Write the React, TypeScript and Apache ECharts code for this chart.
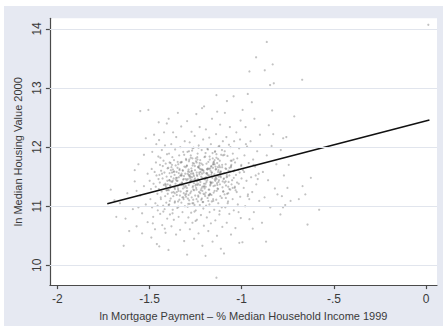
import React, { useEffect, useRef } from "react";
import * as echarts from "echarts";

// Tick values
const xTickValues = [-2, -1.5, -1, -0.5, 0];
const yTickValues = [10, 11, 12, 13, 14];

// Fitted regression line endpoints
const fitX = [-1.729, 0.018];
const fitY = [11.04, 12.46];

// Scatter points, read region by region (x = ln mortgage payment share, y = ln median housing value)
const colAx = [-1.71, -1.68, -1.66, -1.64, -1.63, -1.62, -1.61, -1.69];
const colAy = [11.28, 10.82, 11.05, 10.33, 10.79, 11.22, 10.58, 11.1];

const colBx = [-1.59, -1.58, -1.57, -1.56, -1.55, -1.55, -1.54, -1.53, -1.52, -1.52, -1.51, -1.51, -1.58, -1.56, -1.53, -1.506, -1.57, -1.54];
const colBy = [10.95, 11.42, 10.66, 11.71, 12.61, 11.18, 10.54, 11.87, 11.03, 12.15, 10.73, 11.55, 11.61, 10.98, 11.34, 12.63, 11.26, 10.88];

const colCx = [-1.495, -1.49, -1.488, -1.485, -1.48, -1.478, -1.475, -1.47, -1.468, -1.465, -1.46, -1.462, -1.457, -1.455, -1.452, -1.45, -1.451, -1.492, -1.482, -1.472, -1.463, -1.456, -1.499, -1.486, -1.466];
const colCy = [11.12, 10.47, 11.63, 11.92, 10.82, 11.38, 12.21, 10.61, 11.05, 11.74, 10.36, 11.52, 11.21, 10.93, 11.84, 12.42, 11.46, 11.29, 10.71, 11.58, 12.05, 11.01, 11.43, 10.98, 11.33];

const colDx = [-1.447, -1.413, -1.431, -1.404, -1.442, -1.418, -1.426, -1.409, -1.438, -1.415, -1.401, -1.434, -1.449, -1.411, -1.422, -1.444, -1.403, -1.429, -1.407, -1.446, -1.419, -1.437, -1.402, -1.428, -1.412, -1.424, -1.441, -1.405, -1.433, -1.416, -1.448, -1.421, -1.406, -1.439, -1.414, -1.432, -1.425, -1.408, -1.443, -1.417];
const colDy = [10.32, 10.55, 10.68, 10.79, 10.87, 10.95, 11.01, 11.06, 11.12, 11.17, 11.21, 11.25, 11.29, 11.33, 11.36, 11.4, 11.43, 11.47, 11.5, 11.53, 11.57, 11.6, 11.64, 11.68, 11.72, 11.77, 11.82, 11.88, 11.95, 12.03, 12.12, 12.25, 12.4, 11.15, 11.38, 11.55, 10.91, 11.27, 11.7, 10.62];

const colEx = [-1.397, -1.312, -1.356, -1.334, -1.381, -1.305, -1.368, -1.342, -1.389, -1.321, -1.374, -1.349, -1.308, -1.393, -1.327, -1.362, -1.338, -1.385, -1.316, -1.371,
  -1.352, -1.301, -1.379, -1.331, -1.395, -1.345, -1.318, -1.366, -1.303, -1.387, -1.336, -1.359, -1.324, -1.377, -1.348, -1.392, -1.314, -1.369, -1.341, -1.383,
  -1.329, -1.364, -1.306, -1.391, -1.353, -1.319, -1.373, -1.337, -1.398, -1.311, -1.358, -1.344, -1.386, -1.325, -1.367, -1.302, -1.376, -1.339, -1.394, -1.317,
  -1.361, -1.333, -1.382, -1.309, -1.355, -1.372, -1.328, -1.396, -1.346, -1.315, -1.363, -1.388, -1.322, -1.351, -1.378, -1.304, -1.343, -1.384, -1.326, -1.366,
  -1.335, -1.399, -1.313, -1.357, -1.375, -1.332, -1.39, -1.347, -1.32, -1.37];
const colEy = [10.26, 10.41, 10.52, 10.6, 10.66, 10.72, 10.77, 10.82, 10.86, 10.9, 10.94, 10.97, 11.0, 11.03, 11.06, 11.08, 11.11, 11.13, 11.15, 11.17,
  11.19, 11.21, 11.23, 11.25, 11.27, 11.29, 11.3, 11.32, 11.34, 11.35, 11.37, 11.38, 11.4, 11.41, 11.43, 11.44, 11.46, 11.47, 11.49, 11.5,
  11.52, 11.53, 11.55, 11.56, 11.58, 11.6, 11.62, 11.63, 11.65, 11.67, 11.69, 11.71, 11.73, 11.75, 11.78, 11.8, 11.83, 11.86, 11.89, 11.92,
  11.96, 12.0, 12.05, 12.1, 12.17, 12.25, 12.35, 12.48, 12.58, 11.12, 11.22, 11.31, 11.39, 11.48, 11.57, 11.66, 10.99, 11.42, 11.36, 11.59,
  11.18, 11.28, 11.51, 11.45, 10.88, 11.74, 11.09, 11.33, 11.61, 11.24];

const colFx = [-1.296, -1.213, -1.258, -1.234, -1.281, -1.205, -1.267, -1.243, -1.289, -1.221,
  -1.274, -1.249, -1.208, -1.293, -1.227, -1.262, -1.238, -1.285, -1.216, -1.271,
  -1.252, -1.201, -1.279, -1.231, -1.295, -1.245, -1.218, -1.266, -1.203, -1.287,
  -1.236, -1.259, -1.224, -1.277, -1.248, -1.292, -1.214, -1.269, -1.241, -1.283,
  -1.229, -1.264, -1.206, -1.291, -1.253, -1.219, -1.273, -1.237, -1.298, -1.211,
  -1.258, -1.244, -1.286, -1.225, -1.267, -1.202, -1.276, -1.239, -1.294, -1.217,
  -1.261, -1.233, -1.282, -1.209, -1.255, -1.272, -1.228, -1.296, -1.246, -1.215,
  -1.263, -1.288, -1.222, -1.251, -1.278, -1.204, -1.243, -1.284, -1.226, -1.266,
  -1.235, -1.299, -1.213, -1.257, -1.275, -1.232, -1.29, -1.247, -1.22, -1.27,
  -1.256, -1.207, -1.281, -1.24, -1.212, -1.297, -1.23, -1.265, -1.25, -1.286];
const colFy = [10.18, 10.33, 10.45, 10.54, 10.61, 10.67, 10.72, 10.77, 10.81, 10.85,
  10.89, 10.93, 10.96, 10.99, 11.02, 11.05, 11.08, 11.1, 11.13, 11.15,
  11.18, 11.2, 11.22, 11.24, 11.26, 11.28, 11.3, 11.32, 11.34, 11.36,
  11.38, 11.39, 11.41, 11.43, 11.44, 11.46, 11.48, 11.49, 11.51, 11.52,
  11.54, 11.56, 11.57, 11.59, 11.61, 11.62, 11.64, 11.66, 11.68, 11.7,
  11.72, 11.74, 11.76, 11.78, 11.81, 11.83, 11.86, 11.89, 11.92, 11.95,
  11.99, 12.03, 12.08, 12.13, 12.19, 12.26, 12.34, 12.44, 12.56, 12.66,
  11.11, 11.19, 11.27, 11.35, 11.42, 11.47, 11.53, 11.58, 11.63, 11.69,
  11.16, 11.25, 11.33, 11.45, 11.55, 11.65, 11.04, 11.37, 11.5, 11.6,
  10.91, 11.21, 11.4, 11.79, 11.07, 11.31, 11.57, 11.73, 10.75, 11.93];

const colGx = [-1.196, -1.113, -1.158, -1.134, -1.181, -1.105, -1.167, -1.143, -1.189, -1.121,
  -1.174, -1.149, -1.108, -1.193, -1.127, -1.162, -1.138, -1.185, -1.116, -1.171,
  -1.152, -1.101, -1.179, -1.131, -1.195, -1.145, -1.118, -1.166, -1.103, -1.187,
  -1.136, -1.159, -1.124, -1.177, -1.148, -1.192, -1.114, -1.169, -1.141, -1.183,
  -1.129, -1.164, -1.106, -1.191, -1.153, -1.119, -1.173, -1.137, -1.198, -1.111,
  -1.158, -1.144, -1.186, -1.125, -1.167, -1.102, -1.176, -1.139, -1.194, -1.117,
  -1.161, -1.133, -1.204, -1.137, -1.155, -1.172, -1.128, -1.196, -1.146, -1.115,
  -1.163, -1.188, -1.122, -1.151, -1.178, -1.104, -1.143, -1.184, -1.126, -1.166,
  -1.135, -1.199, -1.113, -1.157, -1.175, -1.132, -1.19, -1.147, -1.12, -1.17,
  -1.156, -1.107, -1.181, -1.14, -1.137];
const colGy = [10.16, 10.28, 10.4, 10.5, 10.58, 10.65, 10.71, 10.76, 10.81, 10.86,
  10.9, 10.94, 10.98, 11.01, 11.05, 11.08, 11.11, 11.14, 11.17, 11.2,
  11.23, 11.25, 11.28, 11.3, 11.33, 11.35, 11.37, 11.4, 11.42, 11.44,
  11.46, 11.48, 11.5, 11.52, 11.54, 11.56, 11.58, 11.6, 11.62, 11.64,
  11.66, 11.68, 11.7, 11.72, 11.74, 11.77, 11.79, 11.82, 11.84, 11.87,
  11.9, 11.93, 11.97, 12.01, 12.05, 12.1, 12.16, 12.22, 12.3, 12.38,
  12.48, 12.6, 12.69, 12.88, 11.12, 11.21, 11.29, 11.38, 11.45, 11.51,
  11.57, 11.63, 11.69, 11.75, 11.18, 11.32, 11.43, 11.53, 11.61, 11.67,
  11.26, 11.47, 11.59, 11.81, 11.03, 11.36, 11.55, 11.71, 10.92, 11.41,
  11.65, 11.95, 11.09, 11.49, 9.79];

const colHx = [-1.096, -1.013, -1.058, -1.034, -1.081, -1.005, -1.067, -1.043, -1.089, -1.021,
  -1.074, -1.049, -1.008, -1.093, -1.027, -1.062, -1.038, -1.085, -1.016, -1.071,
  -1.052, -1.001, -1.079, -1.031, -1.095, -1.045, -1.018, -1.066, -1.003, -1.087,
  -1.036, -1.059, -1.024, -1.077, -1.048, -1.092, -1.014, -1.069, -1.041, -1.083,
  -1.029, -1.064, -1.006, -1.091, -1.08, -1.044, -1.073, -1.037, -1.098, -1.011,
  -1.058, -1.044, -1.086, -1.025, -1.067, -1.002, -1.076, -1.039, -1.094, -1.017,
  -1.061, -1.033, -1.082, -1.009, -1.055];
const colHy = [10.2, 10.38, 10.52, 10.63, 10.72, 10.8, 10.87, 10.93, 10.98, 11.03,
  11.08, 11.12, 11.16, 11.2, 11.24, 11.28, 11.31, 11.35, 11.38, 11.41,
  11.44, 11.47, 11.5, 11.53, 11.56, 11.59, 11.62, 11.65, 11.68, 11.71,
  11.74, 11.77, 11.81, 11.85, 11.89, 11.93, 11.98, 12.04, 12.1, 12.17,
  12.25, 12.34, 12.45, 12.58, 12.78, 12.86, 11.22, 11.33, 11.46, 11.57,
  11.66, 11.79, 11.14, 11.4, 11.52, 11.7, 11.05, 11.61, 11.87, 10.9,
  12.0, 11.27, 11.49, 12.13, 11.37];

const colIx = [-0.996, -0.94, -0.958, -0.934, -0.981, -0.905, -0.967, -0.943, -0.989, -0.921,
  -0.974, -0.949, -0.908, -0.993, -0.927, -0.962, -0.938, -0.985, -0.916, -0.971,
  -0.952, -0.901, -0.979, -0.931, -0.995, -0.945, -0.967, -0.966, -0.913, -0.987,
  -0.936, -0.959, -0.924, -0.977, -0.958];
const colIy = [10.39, 10.62, 10.78, 10.9, 11.0, 11.09, 11.17, 11.24, 11.31, 11.37,
  11.43, 11.49, 11.55, 11.61, 11.67, 11.73, 11.79, 11.86, 11.93, 12.01,
  12.1, 12.21, 12.34, 12.48, 12.63, 12.76, 12.9, 11.2, 11.46, 11.58,
  11.7, 11.12, 11.52, 12.05, 13.28];

const colJx = [-0.868, -0.89, -0.845, -0.876, -0.82, -0.857, -0.885, -0.812, -0.864, -0.838, -0.829, -0.853, -0.835, -0.846, -0.826, -0.875, -0.832, -0.922, -0.864, -0.806];
const colJy = [10.4, 10.72, 10.98, 11.15, 11.3, 11.44, 11.58, 11.71, 11.86, 12.02, 12.22, 12.37, 12.62, 13.05, 13.08, 13.3, 13.4, 13.52, 13.78, 11.2];

const colKx = [-0.79, -0.764, -0.782, -0.752, -0.771, -0.745, -0.788, -0.758, -0.775, -0.715, -0.735, -0.776];
const colKy = [10.86, 11.02, 11.17, 11.31, 11.52, 11.7, 11.95, 12.17, 12.15, 12.52, 11.09, 10.98];

const outlierX = [-0.672, -0.625, -0.58, -0.643, -0.67, -0.655, 0.012, -0.69];
const outlierY = [13.14, 11.48, 10.94, 10.69, 11.34, 11.2, 14.07, 11.12];

// Dense core of the cloud
const coreX = [
  -1.412, -1.223, -1.314, -1.152, -1.271, -1.084, -1.362, -1.193, -1.241, -1.126,
  -1.333, -1.054, -1.292, -1.171, -1.384, -1.213, -1.137, -1.262, -1.096, -1.345,
  -1.235, -1.164, -1.303, -1.117, -1.256, -1.391, -1.186, -1.073, -1.284, -1.204,
  -1.352, -1.145, -1.326, -1.247, -1.106, -1.277, -1.198, -1.374, -1.063, -1.228,
  -1.318, -1.176, -1.266, -1.132, -1.401, -1.219, -1.088, -1.297, -1.158, -1.341,
  -1.249, -1.123, -1.363, -1.207, -1.274, -1.043, -1.181, -1.309, -1.142, -1.236,
  -1.287, -1.167, -1.378, -1.101, -1.253, -1.195, -1.322, -1.128, -1.264, -1.214,
  -1.348, -1.079, -1.242, -1.154, -1.301, -1.187, -1.405, -1.133, -1.226, -1.269,
  -1.113, -1.337, -1.201, -1.282, -1.058, -1.174, -1.259, -1.388, -1.147, -1.231,
  -1.306, -1.162, -1.218, -1.093, -1.356, -1.245, -1.139, -1.293, -1.183, -1.067,
  -1.328, -1.206, -1.273, -1.118, -1.396, -1.237, -1.169, -1.312, -1.081, -1.254,
  -1.191, -1.343, -1.128, -1.267, -1.215, -1.049, -1.298, -1.156, -1.369, -1.225,
  -1.177, -1.283, -1.108, -1.248, -1.331, -1.196, -1.142, -1.381, -1.262, -1.071,
  -1.316, -1.229, -1.165, -1.099, -1.276, -1.352, -1.209, -1.134, -1.288, -1.186,
  -1.244, -1.121, -1.363, -1.198, -1.056, -1.302, -1.171, -1.239, -1.147, -1.325,
  -1.258, -1.087, -1.211, -1.347, -1.153, -1.279, -1.119, -1.234, -1.392, -1.178];
const coreY = [
  11.36, 11.58, 11.22, 11.71, 11.44, 11.63, 11.29, 11.49, 11.83, 11.41,
  11.52, 11.77, 11.13, 11.35, 11.61, 11.26, 11.88, 11.54, 11.47, 11.08,
  11.67, 11.19, 11.46, 11.57, 11.02, 11.74, 11.62, 11.33, 11.79, 11.38,
  11.24, 11.92, 11.55, 11.31, 11.66, 11.5, 11.17, 11.43, 11.59, 11.73,
  11.45, 11.28, 11.98, 11.52, 11.37, 11.11, 11.64, 11.69, 11.4, 11.56,
  11.81, 11.44, 11.06, 11.6, 11.25, 11.48, 11.75, 11.32, 11.67, 11.18,
  11.53, 11.39, 11.7, 11.86, 11.47, 11.23, 11.15, 11.58, 11.34, 11.62,
  11.65, 11.21, 11.42, 11.09, 11.78, 11.56, 11.27, 11.73, 11.36, 11.94,
  11.49, 11.61, 11.3, 11.04, 11.68, 11.84, 11.51, 11.35, 11.26, 11.44,
  11.19, 11.57, 11.72, 11.4, 11.48, 11.12, 11.63, 11.55, 11.96, 11.29,
  11.74, 11.33, 11.59, 11.66, 11.02, 11.46, 11.37, 11.87, 11.53, 11.68,
  11.41, 11.26, 11.8, 11.05, 11.55, 11.31, 11.44, 11.71, 11.58, 11.22,
  11.63, 11.5, 11.14, 11.76, 11.38, 11.9, 11.47, 11.66, 11.28, 11.6,
  11.35, 11.69, 11.53, 11.25, 11.82, 11.43, 11.07, 11.39, 11.62, 11.48,
  11.57, 12.02, 11.32, 11.45, 11.7, 11.16, 11.64, 11.36, 11.78, 11.52,
  11.27, 11.42, 11.61, 11.75, 11.34, 11.47, 11.55, 11.99, 11.44, 11.19];

const columns: [number[], number[]][] = [
  [colAx, colAy], [colBx, colBy], [colCx, colCy], [colDx, colDy], [colEx, colEy],
  [colFx, colFy], [colGx, colGy], [colHx, colHy], [colIx, colIy], [colJx, colJy],
  [colKx, colKy], [outlierX, outlierY], [coreX, coreY],
];

function buildPoints(): number[][] {
  const pts: number[][] = [];
  columns.forEach(([xs, ys]) => {
    const n = Math.min(xs.length, ys.length);
    for (let i = 0; i < n; i++) pts.push([xs[i], ys[i]]);
  });
  return pts;
}

const FONT = "'Liberation Sans', Arial, Helvetica, sans-serif";

export default function App() {
  const ref = useRef<HTMLDivElement>(null);

  useEffect(() => {
    document.body.style.margin = "0";
    if (!ref.current) return;
    const chart = echarts.init(ref.current, null, { renderer: "svg" });
    const fmtX = (v: number) => {
      if (v === 0) return "0";
      const s = String(v);
      return s.replace("-0.", "-.");
    };
    chart.setOption({
      animation: false,
      backgroundColor: "transparent",
      grid: {
        left: 43.5,
        right: 6,
        top: 12.3,
        bottom: 40.5,
        show: true,
        backgroundColor: "#ffffff",
        borderWidth: 0,
      },
      xAxis: {
        type: "value",
        min: -2.04,
        max: 0.059,
        name: "ln Mortgage Payment \u2013 % Median Household Income 1999",
        nameLocation: "middle",
        nameGap: 15,
        nameTextStyle: { fontFamily: FONT, fontSize: 11, color: "#3a3a3a" },
        axisLine: { show: true, onZero: false, lineStyle: { color: "#4a4a4a", width: 1.2 } },
        axisTick: { show: true, length: 4, customValues: xTickValues, lineStyle: { color: "#4a4a4a", width: 1.2 } },
        axisLabel: { customValues: xTickValues, formatter: fmtX, fontFamily: FONT, fontSize: 12, color: "#3a3a3a", margin: 8 },
        splitLine: { show: false },
      },
      yAxis: {
        type: "value",
        min: 9.665,
        max: 14.18,
        name: "ln Median Housing Value 2000",
        nameLocation: "middle",
        nameGap: 15,
        nameTextStyle: { fontFamily: FONT, fontSize: 11, color: "#3a3a3a" },
        axisLine: { show: true, onZero: false, lineStyle: { color: "#4a4a4a", width: 1.2 } },
        axisTick: { show: true, length: 4, customValues: yTickValues, lineStyle: { color: "#4a4a4a", width: 1.2 } },
        axisLabel: { customValues: yTickValues, rotate: 90, fontFamily: FONT, fontSize: 12, color: "#3a3a3a", margin: 7 },
        splitLine: { show: false },
      },
      series: [
        {
          type: "scatter",
          z: 2,
          silent: true,
          symbol: "circle",
          symbolSize: 2.2,
          itemStyle: { color: "rgba(115,115,115,0.55)" },
          data: buildPoints(),
          markLine: {
            silent: true,
            symbol: ["none", "none"],
            label: { show: false },
            lineStyle: { color: "#e1e5ed", width: 1, type: "solid" },
            data: yTickValues.map((v) => ({ yAxis: v })),
          },
        },
        {
          type: "line",
          z: 3,
          silent: true,
          symbol: "none",
          lineStyle: { color: "#111111", width: 1.6 },
          data: fitX.map((x, i) => [x, fitY[i]]),
        },
      ],
    });
    return () => chart.dispose();
  }, []);

  return (
    <div style={{ position: "relative", width: 443, height: 326, background: "#ffffff", overflow: "hidden" }}>
      <div style={{ position: "absolute", left: 4, top: 6, width: 439, height: 320, background: "#e6e9f2" }}>
        <div ref={ref} style={{ width: 439, height: 320 }} />
      </div>
    </div>
  );
}
